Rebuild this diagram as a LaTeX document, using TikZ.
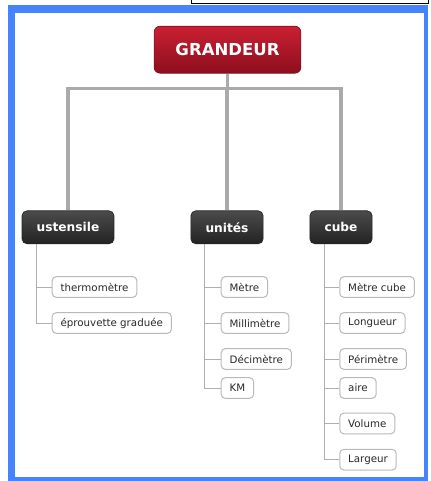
\documentclass[tikz,border=0pt]{standalone}
\usepackage{fontspec}
\setmainfont{DejaVu Sans}
\usetikzlibrary{calc}
\definecolor{frameblue}{RGB}{69,131,255}
\definecolor{trunkgray}{RGB}{170,170,170}
\definecolor{twiggray}{RGB}{175,175,175}
\definecolor{leafborder}{RGB}{185,185,185}
\definecolor{leaftext}{RGB}{40,40,40}
\definecolor{redtop}{RGB}{202,32,50}
\definecolor{redbot}{RGB}{140,14,30}
\definecolor{darktop}{RGB}{75,75,75}
\definecolor{darkbot}{RGB}{35,35,35}
\tikzset{
  rootbox/.style={rounded corners=4.5pt, top color=redtop, bottom color=redbot,
    draw=redbot!90!black, line width=0.5pt, text=white,
    font=\fontsize{12.4}{14}\selectfont\bfseries,
    inner xsep=16pt, inner ysep=0pt, minimum height=35.25pt},
  catbox/.style={rounded corners=3.75pt, top color=darktop, bottom color=darkbot,
    draw=darkbot, line width=0.5pt, text=white,
    font=\fontsize{9.15}{11}\selectfont\bfseries,
    inner xsep=11pt, inner ysep=0pt, minimum height=24.75pt},
  leafbox/.style={rounded corners=3pt, fill=white, draw=leafborder, line width=0.75pt,
    text=leaftext, font=\fontsize{7.7}{9}\selectfont, anchor=west,
    inner xsep=6.3pt, inner ysep=0pt, minimum height=15.45pt},
  trunk/.style={draw=trunkgray, line width=2.6pt},
  twig/.style={draw=twiggray, line width=0.75pt},
}
\begin{document}
\begin{tikzpicture}[x=0.75pt,y=-0.75pt]
\useasboundingbox (0,0) rectangle (430,481);
\fill[white] (0,0) rectangle (430,481);
% box at the top
\draw[black, line width=1.1pt, fill=white] (191.5,-10) rectangle (428.5,3.5);
% blue frame
\fill[frameblue] (8,5) rectangle (428,485);
\fill[white] (15,13) rectangle (424,477);

% nodes
\node[rootbox] (G) at (227.5,49.7) {GRANDEUR};
\node[catbox] (ust) at (68,227.3) {ustensile};
\node[catbox] (uni) at (227,227.3) {unités};
\node[catbox] (cub) at (341,227.3) {cube};

\coordinate (bar) at (227.5,88.3);

\node[leafbox] (th) at (51.7,287) {thermomètre};
\node[leafbox] (ep) at (51.7,323) {éprouvette graduée};

\node[leafbox] (me) at (220.7,287) {Mètre};
\node[leafbox] (mi) at (220.7,323) {Millimètre};
\node[leafbox] (de) at (220.7,359) {Décimètre};
\node[leafbox] (km) at (220.7,388) {KM};

\node[leafbox] (mc) at (339.3,287) {Mètre cube};
\node[leafbox] (lo) at (339.3,323) {Longueur};
\node[leafbox] (pe) at (339.3,359) {Périmètre};
\node[leafbox] (ai) at (339.3,388) {aire};
\node[leafbox] (vo) at (339.3,423.5) {Volume};
\node[leafbox] (la) at (339.3,459.7) {Largeur};

% trunk connectors
\draw[trunk] (G.south) -- (G.south |- bar);
\draw[trunk] (ust.north) |- (bar) -| (cub.north);
\draw[trunk] (uni.north) -- (uni.north |- bar);

% twig connectors
\coordinate (ustt) at ($(ust.south west)+(14.5,0)$);
\coordinate (unit) at ($(uni.south west)+(14.3,0)$);
\coordinate (cubt) at ($(cub.south west)+(14.7,0)$);
\foreach \l in {th,ep} \draw[twig] (ustt) |- (\l.west);
\foreach \l in {me,mi,de,km} \draw[twig] (unit) |- (\l.west);
\foreach \l in {mc,lo,pe,ai,vo,la} \draw[twig] (cubt) |- (\l.west);
\end{tikzpicture}
\end{document}
